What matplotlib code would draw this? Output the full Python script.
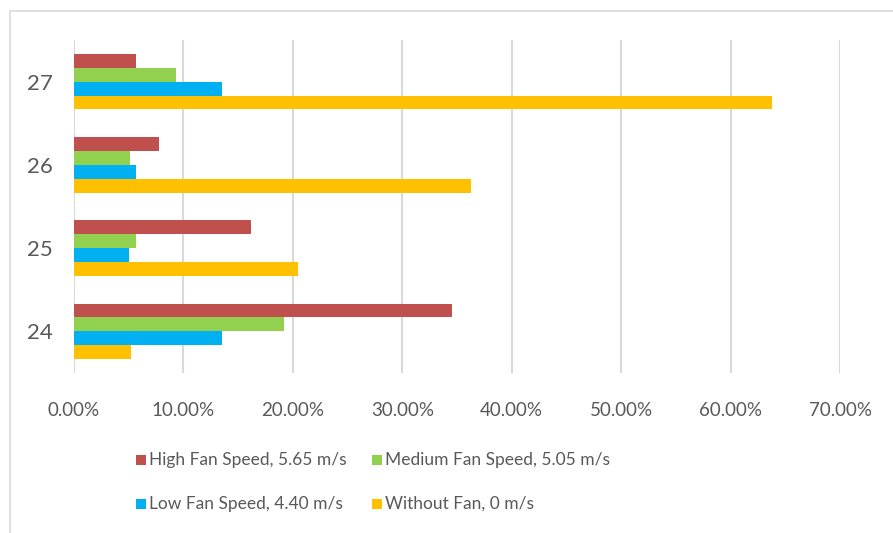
import matplotlib
matplotlib.use("Agg")
import matplotlib.pyplot as plt
from matplotlib.patches import Rectangle
from matplotlib.ticker import FuncFormatter, MultipleLocator
import numpy as np

plt.rcParams['font.family'] = ['Lato', 'DejaVu Sans']

categories = ["24", "25", "26", "27"]
series_names = [
    "High Fan Speed, 5.65 m/s",
    "Medium Fan Speed, 5.05 m/s",
    "Low Fan Speed, 4.40 m/s",
    "Without Fan, 0 m/s",
]
high = [34.5, 16.2, 7.75, 5.67]
medium = [19.2, 5.67, 5.12, 9.3]
low = [13.5, 5.0, 5.67, 13.5]
without = [5.25, 20.5, 36.3, 63.8]
colors = ["#C0504D", "#92D050", "#00B0F0", "#FFC000"]
text_color = "#595959"

W, H = 893, 533
fig = plt.figure(figsize=(W / 100, H / 100), dpi=100)
ax = fig.add_axes([74 / W, 1 - 373 / H, (840 - 74) / W, (373 - 40) / H])

# chart border (open on the right and bottom)
fig.patches.append(Rectangle((10 / W, -0.1), 1.2, 1 - 11.5 / H + 0.1,
                             transform=fig.transFigure, fill=False,
                             edgecolor="#D9D9D9", linewidth=1.2, zorder=0))

y = np.arange(len(categories))
h = 0.167
all_series = [high, medium, low, without]
offsets = [1.5 * h, 0.5 * h, -0.5 * h, -1.5 * h]
for vals, off, col, name in zip(all_series, offsets, colors, series_names):
    ax.barh(y + off, np.array(vals) / 100, height=h, color=col, label=name,
            zorder=3)

ax.set_xlim(0, 0.70)
ax.set_ylim(-0.5, len(categories) - 0.5)
ax.xaxis.set_major_locator(MultipleLocator(0.10))
ax.xaxis.set_major_formatter(FuncFormatter(lambda v, p: f"{v * 100:.2f}%"))
ax.set_yticks(y)
ax.set_yticklabels(categories)
ax.grid(axis="x", color="#D9D9D9", linewidth=1.5, zorder=0)
for s in ax.spines.values():
    s.set_visible(False)
ax.tick_params(axis="both", length=0, colors=text_color)
ax.tick_params(axis="x", labelsize=13.5, pad=21)
ax.tick_params(axis="y", labelsize=16, pad=15)

# legend: two rows of two entries
legend_cols = [136, 372]
legend_rows = [460, 504]
sq = 10
for i, (name, col) in enumerate(zip(series_names, colors)):
    px = legend_cols[i % 2]
    py = legend_rows[i // 2]
    fig.patches.append(Rectangle((px / W, 1 - (py + sq / 2) / H), sq / W, sq / H,
                                 transform=fig.transFigure, facecolor=col,
                                 edgecolor="none"))
    fig.text((px + sq + 3) / W, 1 - py / H, name, fontsize=12.5,
             color=text_color, va="center", ha="left")

fig.savefig("out.png", dpi=100, facecolor="white")
